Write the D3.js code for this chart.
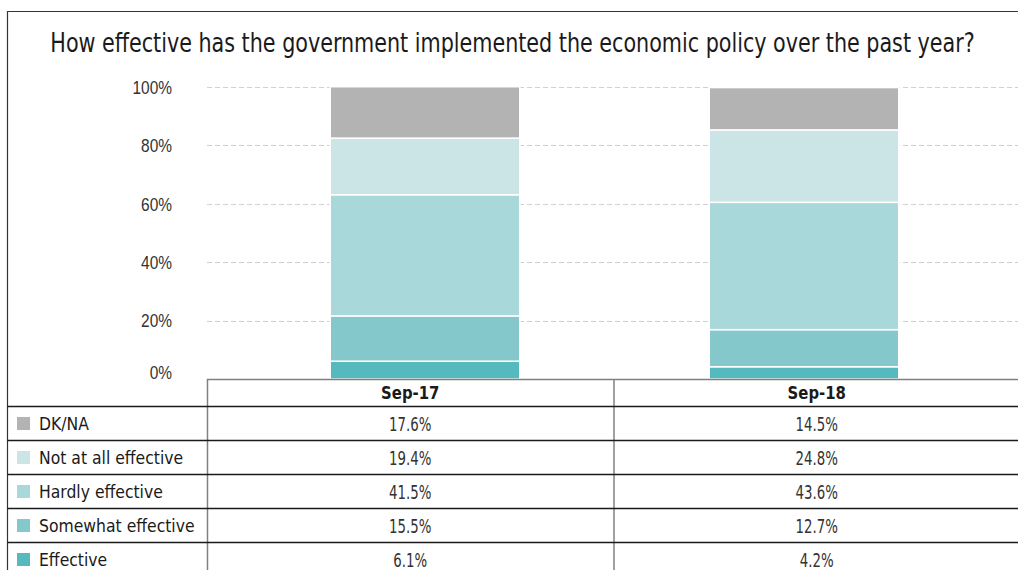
<!DOCTYPE html>
<html>
<head>
<meta charset="utf-8">
<script src="https://cdn.jsdelivr.net/npm/d3@7"></script>
<style>
  html, body { margin: 0; padding: 0; background: #fff; }
  svg { display: block; font-family: "Liberation Sans Narrow", "DejaVu Sans Condensed", "Roboto", sans-serif; }
</style>
</head>
<body>
<svg id="chart" width="1018" height="570"></svg>
<script>
// Survey waves and response shares (%)
const periods = ["Sep-17", "Sep-18"];
const responses = ["Effective", "Somewhat effective", "Hardly effective", "Not at all effective", "DK/NA"];
const effective = [6.1, 4.2];
const somewhatEffective = [15.5, 12.7];
const hardlyEffective = [41.5, 43.6];
const notAtAllEffective = [19.4, 24.8];
const dkna = [17.6, 14.5];
const yTicks = [0, 20, 40, 60, 80, 100];
const colors = ["#55babd", "#85c8cb", "#a8d8da", "#cbe4e5", "#b3b3b3"];
const title = "How effective has the government implemented the economic policy over the past year?";

const seriesValues = [effective, somewhatEffective, hardlyEffective, notAtAllEffective, dkna];
const rows = periods.map((p, i) => {
  const r = { period: p };
  responses.forEach((name, k) => r[name] = seriesValues[k][i]);
  return r;
});

const svg = d3.select("#chart");
const W = 1018, H = 570;

// layout
const frameLeft = 7.5, frameTop = 11.5;
const plotLeft = 207, plotRight = 1018;
const plotTop = 87, plotBottom = 379;
const tableTop = 379, headerH = 27.5, rowH = 34;

const y = d3.scaleLinear().domain([0, 100]).range([plotBottom, plotTop]);
const xBar = d3.scaleBand().domain(periods).range([235.5, 993.5]).paddingInner(0.5).paddingOuter(0.25);
const xCol = d3.scaleBand().domain(periods).range([plotLeft, 1020]);

// condensed text: horizontally squeezed around its anchor point
function label(g, x, yPos, str, size, sx, anchor) {
  return g.append("text")
    .attr("transform", `translate(${x},${yPos}) scale(${sx},1)`)
    .attr("text-anchor", anchor)
    .attr("font-size", size)
    .text(str);
}

// outer frame
svg.append("path")
  .attr("d", `M${frameLeft},${H} V${frameTop} H${W}`)
  .attr("fill", "none").attr("stroke", "#333").attr("stroke-width", 1.2);

// title, squeezed to span 925px centred on the frame
const titleText = label(svg, 512.5, 52, title, 26, 1, "middle").attr("fill", "#1a1a1a");
const natural = titleText.node().getComputedTextLength();
titleText.attr("transform", `translate(512.5,52) scale(${925 / natural},1)`);

// gridlines
svg.append("g").selectAll("line")
  .data(yTicks.filter(t => t > 0))
  .join("line")
  .attr("x1", plotLeft).attr("x2", plotRight)
  .attr("y1", d => Math.round(y(d)) + 0.5).attr("y2", d => Math.round(y(d)) + 0.5)
  .attr("stroke", "#d0d0d0").attr("stroke-dasharray", "5,3");

// y axis labels
const yAxis = d3.axisLeft(y).tickValues(yTicks).tickFormat(d => d + "%").tickSize(0).tickPadding(0);
const yg = svg.append("g").attr("transform", `translate(172,0)`).call(yAxis);
yg.select(".domain").remove();
yg.selectAll("text")
  .attr("font-size", 18)
  .attr("fill", "#333")
  .attr("font-family", null)
  .attr("transform", "scale(0.86,1)")
  .attr("dy", d => d === 0 ? "-0.05em" : "0.35em");

// stacked bars
const stack = d3.stack().keys(responses)(rows);
svg.append("g").selectAll("g")
  .data(stack)
  .join("g")
  .attr("fill", (d, i) => colors[i])
  .selectAll("rect")
  .data(d => d)
  .join("rect")
  .attr("x", d => xBar(d.data.period))
  .attr("width", xBar.bandwidth())
  .attr("y", d => y(d[1]))
  .attr("height", d => y(d[0]) - y(d[1]))
  .attr("stroke", "#fff")
  .attr("stroke-width", 1.5);

// axis baseline / table top
svg.append("line")
  .attr("x1", plotLeft).attr("x2", W)
  .attr("y1", tableTop + 0.5).attr("y2", tableTop + 0.5)
  .attr("stroke", "#808080").attr("stroke-width", 1.5);

// data table
const tbl = svg.append("g");
const dividers = [plotLeft, xCol(periods[1])];
tbl.selectAll("line.v")
  .data(dividers)
  .join("line")
  .attr("class", "v")
  .attr("x1", d => d + 0.5).attr("x2", d => d + 0.5)
  .attr("y1", tableTop).attr("y2", H)
  .attr("stroke", "#808080").attr("stroke-width", 1.5);

// header labels
periods.forEach(p => {
  label(tbl, xCol(p) + xCol.bandwidth() / 2, tableTop + headerH / 2 + 6.5, p, 17.4, 0.95, "middle")
    .attr("font-weight", "bold")
    .attr("fill", "#1a1a1a");
});

// rows, top to bottom
const tableOrder = responses.slice().reverse();
tableOrder.forEach((name, r) => {
  const top = tableTop + headerH + r * rowH;
  tbl.append("line")
    .attr("x1", frameLeft).attr("x2", W)
    .attr("y1", top).attr("y2", top)
    .attr("stroke", "#1a1a1a").attr("stroke-width", 1.3);
  const ci = responses.indexOf(name);
  tbl.append("rect")
    .attr("x", 17).attr("y", top + rowH / 2 - 6.5)
    .attr("width", 13).attr("height", 13)
    .attr("fill", colors[ci]);
  label(tbl, 39, top + rowH / 2 + 6.7, name, 18.3, 0.95, "start")
    .attr("fill", "#1a1a1a");
  periods.forEach((p, i) => {
    label(tbl, xCol(p) + xCol.bandwidth() / 2, top + rowH / 2 + 7.5,
      seriesValues[ci][i].toFixed(1) + "%", 19, 0.78, "middle")
      .attr("fill", "#333");
  });
});
</script>
</body>
</html>
